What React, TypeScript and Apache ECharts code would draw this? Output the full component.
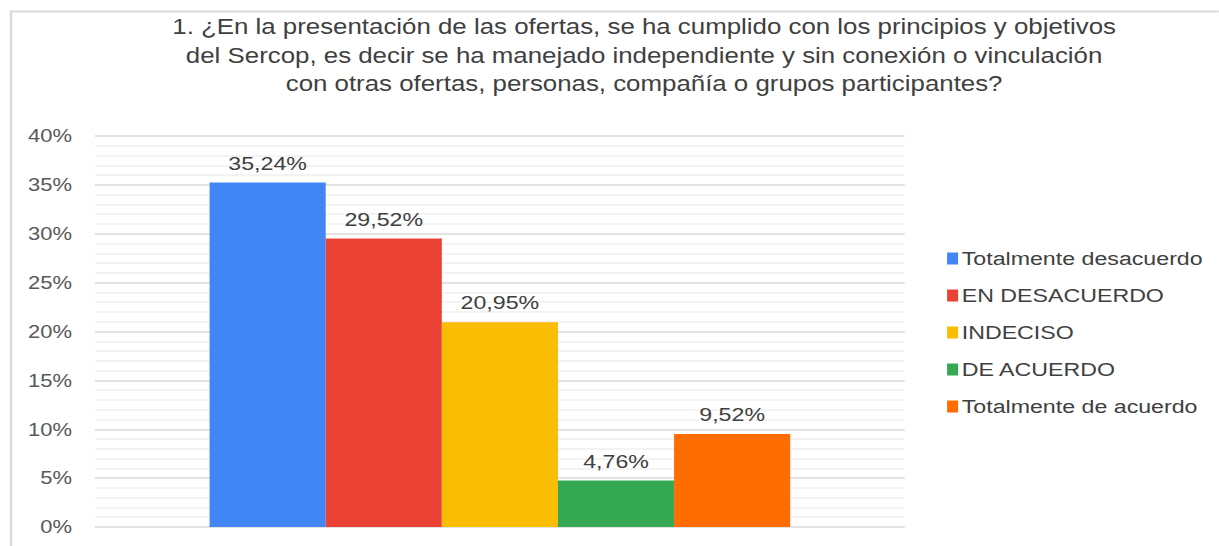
import React, { useEffect, useRef } from "react";
import * as echarts from "echarts";

const titleLines = [
  "1. ¿En la presentación de las ofertas, se ha cumplido con los principios y objetivos",
  "del Sercop, es decir se ha manejado independiente y sin conexión o vinculación",
  "con otras ofertas, personas, compañía o grupos participantes?",
];
const categories = [""];
const seriesNames = [
  "Totalmente desacuerdo",
  "EN DESACUERDO",
  "INDECISO",
  "DE ACUERDO",
  "Totalmente de acuerdo",
];
const seriesValues = [35.24, 29.52, 20.95, 4.76, 9.52];
const seriesColors = ["#4285F4", "#EA4335", "#FBBC04", "#34A853", "#FF6D01"];
const yTicks = [0, 5, 10, 15, 20, 25, 30, 35, 40];

const fmt = (v: number) => v.toFixed(2).replace(".", ",") + "%";

// the reference is horizontally stretched; reproduce by rendering narrower and scaling X
const SX = 1.22;
const W = 1219 / SX;
const H = 546;
const px = (x: number) => x / SX;

export default function App() {
  const ref = useRef<HTMLDivElement>(null);
  useEffect(() => {
    if (!ref.current) return;
    const chart = echarts.init(ref.current, null, { renderer: "svg" });
    const font = "'Liberation Sans', Arial, sans-serif";
    chart.setOption({
      animation: false,
      backgroundColor: "#ffffff",
      textStyle: { fontFamily: font },
      title: {
        text: titleLines.join("\n"),
        left: px(638),
        textAlign: "center",
        top: 8,
        textStyle: {
          fontFamily: font,
          fontSize: 21.2,
          fontWeight: "normal",
          color: "#404040",
          lineHeight: 28.5,
        },
      },
      legend: {
        orient: "vertical",
        left: px(941),
        top: 244,
        itemWidth: 9,
        itemHeight: 12,
        itemGap: 18,
        icon: "rect",
        textStyle: { fontFamily: font, fontSize: 19, color: "#404040", padding: [0, 0, 0, -2] },
        data: seriesNames,
      },
      grid: { left: px(95), right: W - px(905), top: 136, bottom: 19, containLabel: false },
      xAxis: {
        type: "category",
        data: categories,
        axisLine: { show: false },
        axisTick: { show: false },
        axisLabel: { show: false },
      },
      yAxis: {
        type: "value",
        min: yTicks[0],
        max: yTicks[yTicks.length - 1],
        interval: 5,
        axisLine: { show: false },
        axisTick: { show: false },
        axisLabel: {
          formatter: (v: number) => v + "%",
          fontFamily: font,
          fontSize: 18,
          color: "#595959",
          margin: px(23),
        },
        splitLine: { show: true, lineStyle: { color: "#d9d9d9", width: 1.5 } },
        minorTick: { show: false, splitNumber: 5 },
        minorSplitLine: { show: true, lineStyle: { color: "#efefef", width: 1.5 } },
      },
      series: seriesNames.map((name, i) => ({
        name,
        type: "bar",
        data: [seriesValues[i]],
        itemStyle: { color: seriesColors[i] },
        barGap: "0%",
        barCategoryGap: "28.3%",
        label: {
          show: true,
          position: "top",
          distance: 10,
          formatter: (p: any) => fmt(p.value),
          fontFamily: font,
          fontSize: 19,
          color: "#404040",
        },
      })),
      graphic: [
        {
          type: "polyline",
          shape: { points: [[px(11), 546], [px(11), 11.5], [W, 11.5]] },
          style: { stroke: "#d9d9d9", lineWidth: 2, fill: null },
        },
      ],
    });
    return () => chart.dispose();
  }, []);
  return (
    <div
      ref={ref}
      style={{
        position: "fixed",
        left: 0,
        top: 0,
        width: W,
        height: H,
        transform: `scaleX(${SX})`,
        transformOrigin: "0 0",
      }}
    />
  );
}
